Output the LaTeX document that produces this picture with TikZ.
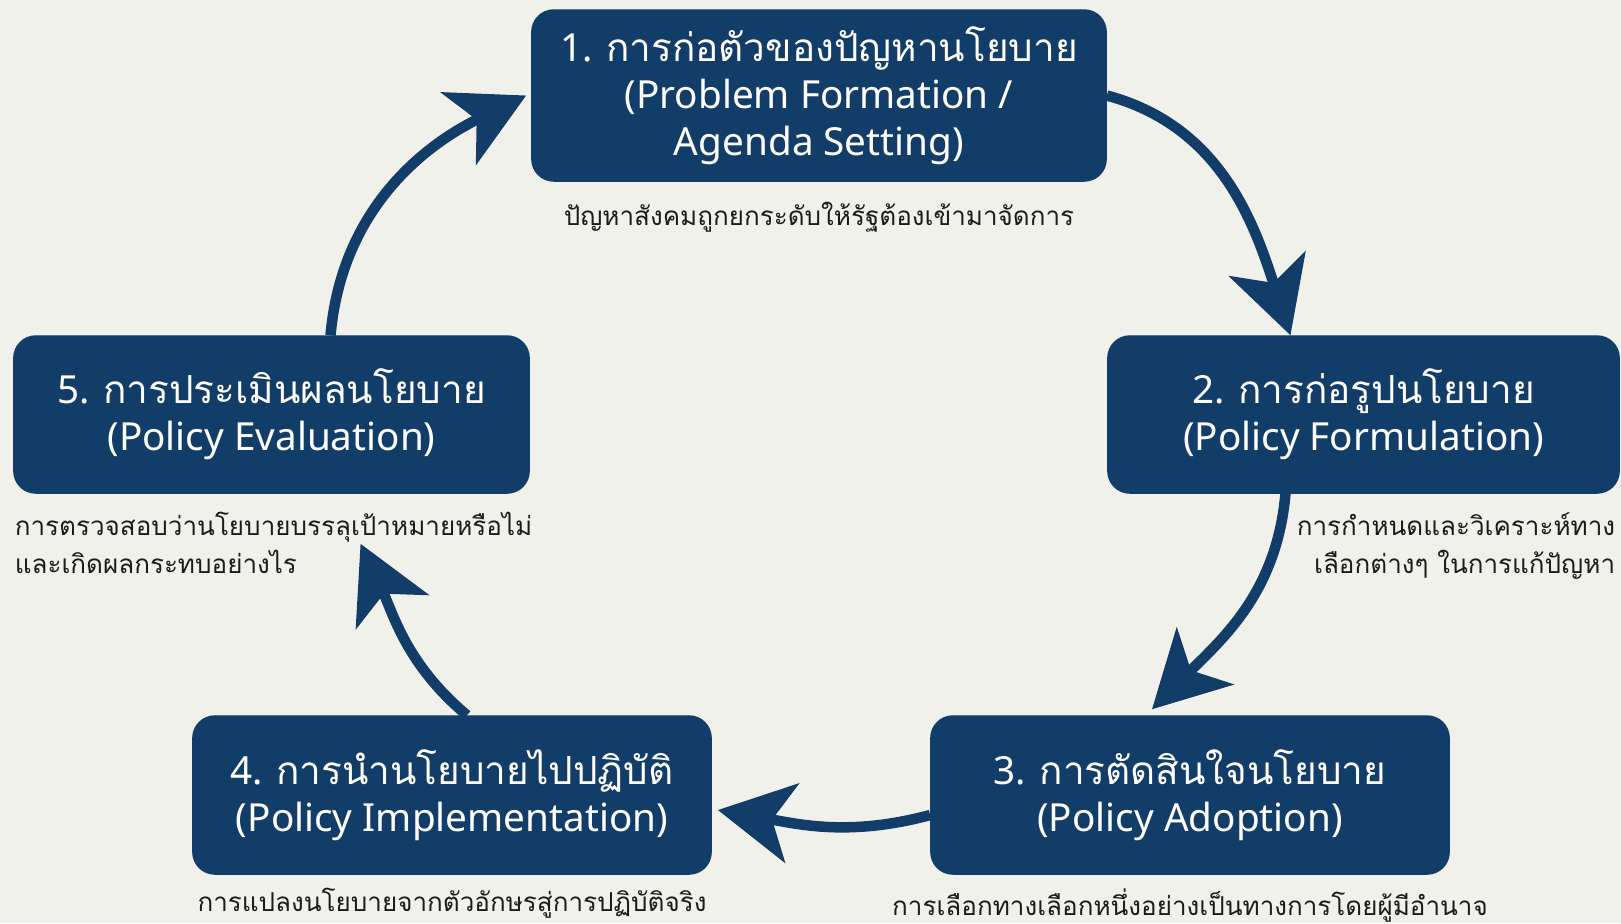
\documentclass[tikz,border=0pt]{standalone}
\usepackage{fontspec}
\setmainfont{Noto Sans}
\newfontfamily\thaifont[Script=Thai]{Loma}
\usetikzlibrary{arrows.meta,positioning}
\definecolor{navy}{HTML}{123D69}
\definecolor{paper}{HTML}{F1F1EC}
\definecolor{ink}{HTML}{1C1C1C}

\begin{document}
\begin{tikzpicture}[x=0.01cm,y=-0.01cm,
>={Stealth[length=7.5mm,width=8mm,inset=2mm]},
stage/.style={draw=navy,fill=navy,rounded corners=2.2mm,text=white,align=center,
  minimum width=5.15cm,minimum height=1.57cm,font=\fontsize{11}{13.4}\selectfont},
note/.style={text=ink,inner sep=0pt,font=\fontsize{7.4}{10.8}\selectfont\thaifont},
flow/.style={->,navy,line width=1.05mm}]
\fill[paper] (0,0) rectangle (1621,923);
\useasboundingbox (0,0) rectangle (1621,923);

% the five stages
\node[stage,minimum width=5.74cm,minimum height=1.71cm] (b1) at (819,95.5)
  {1. {\thaifont การก่อตัวของปัญหานโยบาย}\\(Problem Formation /\\Agenda Setting)};
\node[stage,minimum width=5.11cm] (b2) at (1363.5,414.5)
  {2. {\thaifont การก่อรูปนโยบาย}\\(Policy Formulation)};
\node[stage,minimum width=5.18cm,minimum height=1.58cm] (b3) at (1190,795)
  {3. {\thaifont การตัดสินใจนโยบาย}\\(Policy Adoption)};
\node[stage,minimum width=5.18cm,minimum height=1.58cm] (b4) at (452,795)
  {4. {\thaifont การนำนโยบายไปปฏิบัติ}\\(Policy Implementation)};
\node[stage] (b5) at (271.5,414.5)
  {5. {\thaifont การประเมินผลนโยบาย}\\(Policy Evaluation)};

% notes under the stages
\node[note,below=2mm of b1] (n1) {ปัญหาสังคมถูกยกระดับให้รัฐต้องเข้ามาจัดการ};
\node[note,align=right,below left=1.8mm and 0.4mm of b2.south east] (n2)
  {การกำหนดและวิเคราะห์ทาง\\เลือกต่างๆ ในการแก้ปัญหา};
\node[note,below=1.3mm of b3] (n3) {การเลือกทางเลือกหนึ่งอย่างเป็นทางการโดยผู้มีอำนาจ};
\node[note,below=1.3mm of b4] (n4) {การแปลงนโยบายจากตัวอักษรสู่การปฏิบัติจริง};
\node[note,align=left,below right=1.8mm and 0.1mm of b5.south west] (n5)
  {การตรวจสอบว่านโยบายบรรลุเป้าหมายหรือไม่\\และเกิดผลกระทบอย่างไร};

% cycle arrows
\draw[flow] (b1.east) to[out=-15,in=108] ([xshift=-0.73cm]b2.north);
\draw[flow] ([xshift=-0.78cm]b2.south) to[out=-95,in=45] ([xshift=-0.38cm,yshift=0.06cm]b3.north);
\draw[flow] ([yshift=-0.2cm]b3.west) to[out=195,in=-10] ([xshift=0.06cm,yshift=-0.15cm]b4.east);
\draw[flow] ([xshift=0.15cm]b4.north) to[out=140,in=-65] ([xshift=0.89cm,yshift=-0.5cm]b5.south);
\draw[flow] ([xshift=0.59cm]b5.north) to[out=85,in=206] ([xshift=-0.05cm]b1.west);
\end{tikzpicture}
\end{document}
